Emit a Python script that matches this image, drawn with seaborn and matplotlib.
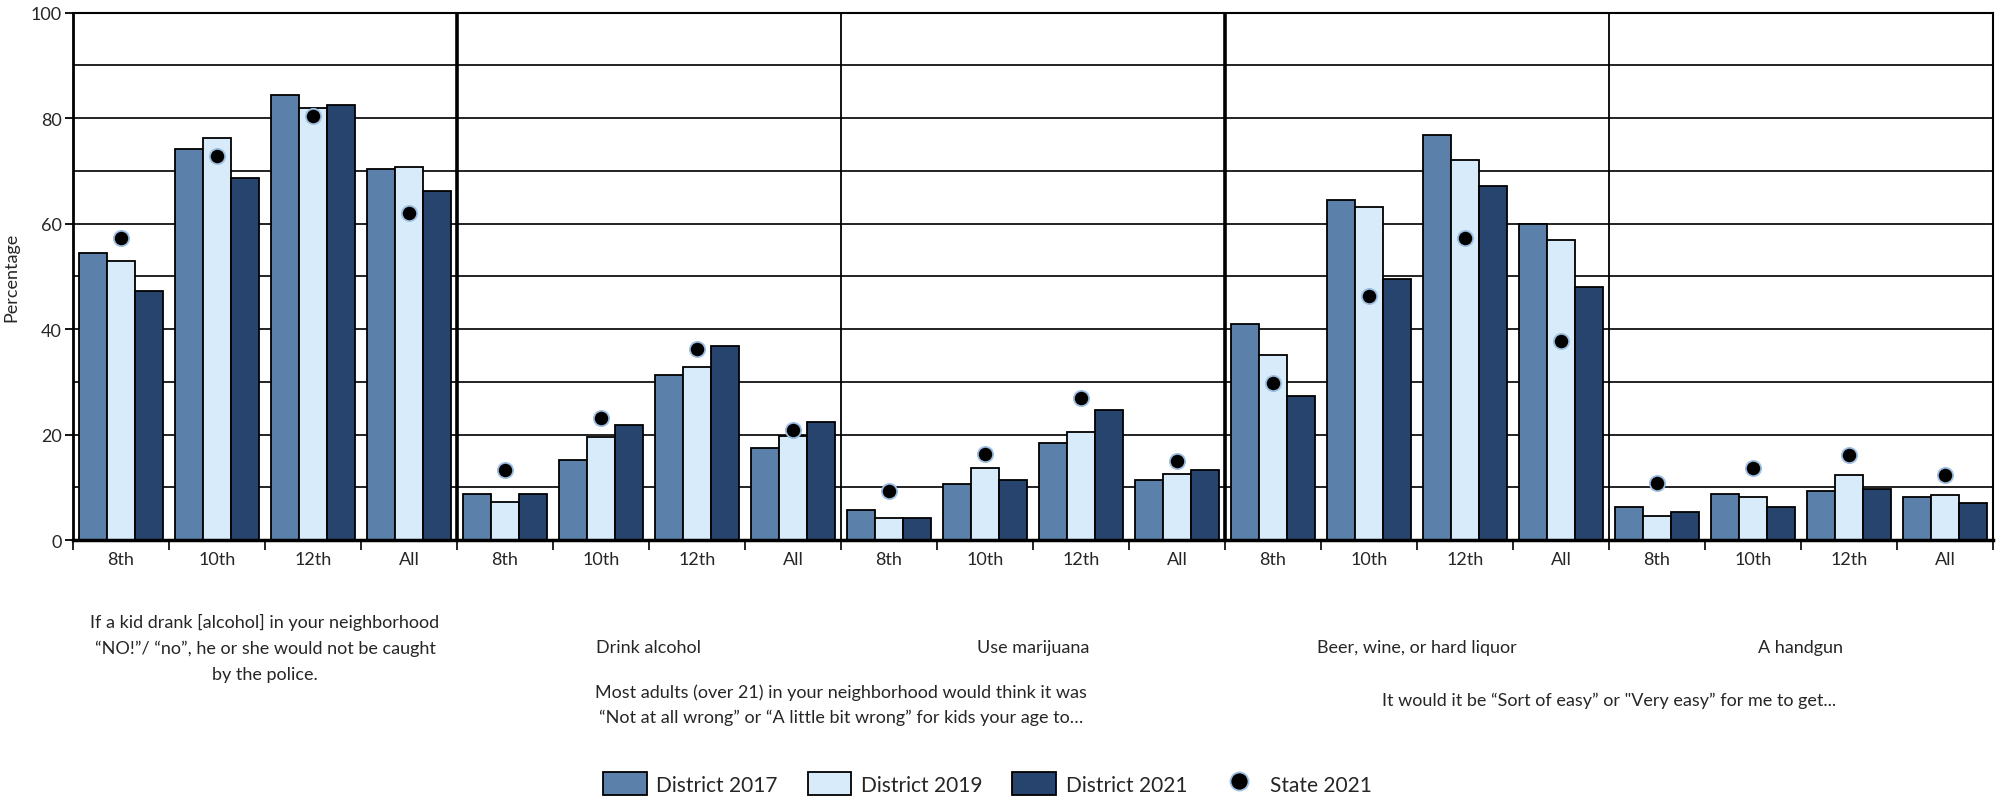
import numpy as np
import pandas as pd
import matplotlib
matplotlib.use("Agg")
import matplotlib.pyplot as plt
from matplotlib.patches import Patch
from matplotlib.lines import Line2D
import seaborn as sns

grades = ["8th", "10th", "12th", "All"]
groups = ["police", "alcohol", "marijuana", "beer", "handgun"]
series = ["District 2017", "District 2019", "District 2021"]

d2017 = [54.4, 74.2, 84.4, 70.3,
         8.7, 15.2, 31.3, 17.5,
         5.8, 10.7, 18.5, 11.3,
         41.0, 64.4, 76.9, 59.9,
         6.2, 8.7, 9.4, 8.2]
d2019 = [53.0, 76.2, 82.0, 70.7,
         7.3, 19.5, 32.8, 19.8,
         4.1, 13.7, 20.5, 12.6,
         35.1, 63.2, 72.0, 56.9,
         4.5, 8.2, 12.3, 8.5]
d2021 = [47.2, 68.7, 82.5, 66.1,
         8.7, 21.8, 36.8, 22.4,
         4.1, 11.3, 24.7, 13.3,
         27.4, 49.5, 67.1, 47.9,
         5.4, 6.2, 9.7, 7.1]
state2021 = [57.2, 72.9, 80.4, 62.0,
             13.3, 23.2, 36.2, 20.8,
             9.4, 16.3, 27.0, 15.0,
             29.7, 46.2, 57.2, 37.8,
             10.9, 13.7, 16.2, 12.3]

group_labels = [
    "If a kid drank [alcohol] in your neighborhood\n\u201cNO!\u201d/ \u201cno\u201d, he or she would not be caught\nby the police.",
    "Drink alcohol",
    "Use marijuana",
    "Beer, wine, or hard liquor",
    "A handgun",
]
section_labels = [
    "Most adults (over 21) in your neighborhood would think it was\n\u201cNot at all wrong\u201d or \u201cA little bit wrong\u201d for kids your age to\u2026",
    "It would it be \u201cSort of easy\u201d or \"Very easy\u201d for me to get...",
]

colors = ["#5b80a9", "#d8ebfb", "#26446e"]

sns.set_theme(style="white")
plt.rcParams["font.family"] = ["Lato", "DejaVu Sans"]

cats = [f"{g}_{gr}" for g in groups for gr in grades]
tick_labels = [gr for g in groups for gr in grades]

rows = []
for s, vals in zip(series, [d2017, d2019, d2021]):
    for c, v in zip(cats, vals):
        rows.append({"cat": c, "series": s, "value": v})
df = pd.DataFrame(rows)
df_state = pd.DataFrame({"cat": cats, "value": state2021})

fig = plt.figure(figsize=(19.99, 8.04), dpi=100)
ax = fig.add_axes([0.0365, 0.327, 0.9605, 0.656])

sns.barplot(data=df, x="cat", y="value", hue="series", order=cats,
            hue_order=series, palette=colors, width=0.87,
            edgecolor="black", linewidth=1.3, ax=ax, legend=False,
            errorbar=None, saturation=1)
sns.stripplot(data=df_state, x="cat", y="value", order=cats, jitter=False,
              color="black", edgecolor="#9fbfe0", linewidth=1.3, size=11,
              ax=ax, zorder=5)

ax.set_ylim(0, 100)
ax.set_xlim(-0.5, len(cats) - 0.5)
ax.set_yticks(np.arange(0, 101, 20))
ax.set_yticks(np.arange(10, 100, 20), minor=True)
ax.set_axisbelow(True)
ax.yaxis.grid(True, which="both", color="#222222", linewidth=1.4)
ax.tick_params(axis="y", which="major", length=6, width=1.3, color="black",
               labelsize=13, pad=2, left=True)
ax.tick_params(axis="y", which="minor", length=0)

# x ticks: boundaries as major ticks, labels at centers as minor
ax.set_xticks(np.arange(-0.5, len(cats), 1.0))
ax.set_xticklabels([])
ax.set_xticks(np.arange(len(cats)), minor=True)
ax.set_xticklabels(tick_labels, minor=True)
ax.tick_params(axis="x", which="major", length=7, width=1.2, color="black",
               bottom=True)
ax.tick_params(axis="x", which="minor", length=0, labelsize=13, pad=8)

ax.set_xlabel("")
ax.set_ylabel("Percentage", fontsize=13, labelpad=8)

for sp in ax.spines.values():
    sp.set_color("black")
    sp.set_linewidth(1.5)
ax.spines["left"].set_linewidth(2)
ax.spines["bottom"].set_linewidth(2.5)

for i, xb in enumerate([3.5, 7.5, 11.5, 15.5]):
    ax.axvline(xb, color="black", linewidth=2.6 if i % 2 == 0 else 1.3, zorder=3)

trans = ax.get_xaxis_transform()
for gi, lab in enumerate(group_labels):
    xc = gi * 4 + 1.5
    ax.text(xc, -0.203, lab, transform=trans, ha="center",
            va="center", fontsize=13, linespacing=1.75)
ax.text(7.5, -0.311, section_labels[0], transform=trans, ha="center",
        va="center", fontsize=13, linespacing=1.6)
ax.text(15.5, -0.303, section_labels[1], transform=trans, ha="center",
        va="center", fontsize=13)

handles = [Patch(facecolor=c, edgecolor="black", linewidth=1.3) for c in colors]
handles.append(Line2D([], [], marker="o", color="none", markerfacecolor="black",
                      markeredgecolor="#9fbfe0", markersize=13, markeredgewidth=1.3))
fig.legend(handles, series + ["State 2021"], loc="center",
           bbox_to_anchor=(0.494, 0.024), ncol=4, frameon=False,
           fontsize=15, handlelength=2.1, handleheight=1.35, columnspacing=1.45,
           handletextpad=0.45)

fig.savefig("out.png", dpi=100)
